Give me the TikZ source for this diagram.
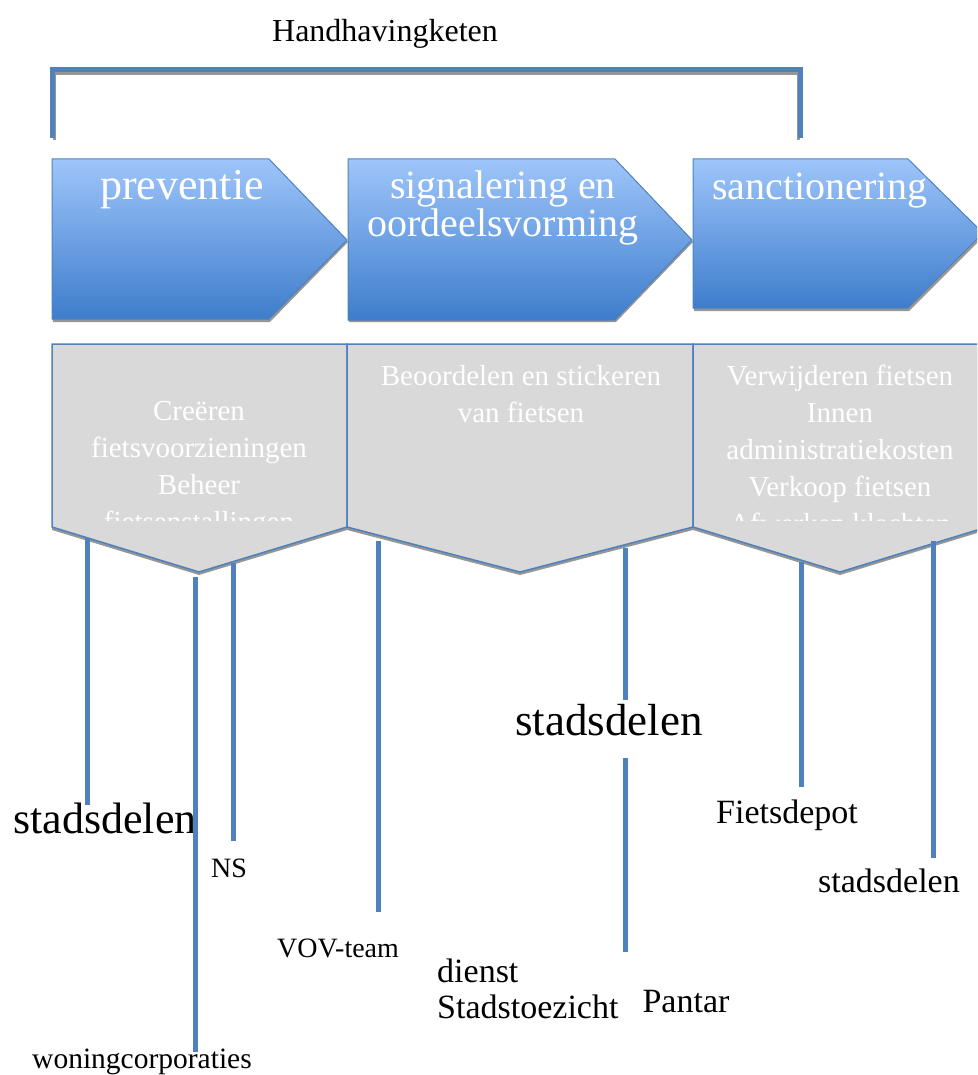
\documentclass[tikz,border=0pt]{standalone}
\usepackage{fontspec}
\setmainfont{Liberation Serif}

\definecolor{lijnblauw}{RGB}{79,129,189}
\definecolor{pijltop}{RGB}{158,197,250}
\definecolor{pijlmidden}{RGB}{118,164,229}
\definecolor{pijlbodem}{RGB}{62,125,204}
\definecolor{vakgrijs}{RGB}{217,217,217}
\definecolor{schaduwgrijs}{RGB}{150,150,150}

\tikzset{
	pijl/.style = {draw=lijnblauw, line width=1pt, top color=pijltop, middle color=pijlmidden, bottom color=pijlbodem},
	vak/.style = {draw=lijnblauw, line width=1.5pt, fill=vakgrijs},
	schaduw/.style = {fill=schaduwgrijs},
	link/.style = {draw=lijnblauw, line width=5pt},
	kop/.style = {text=white, inner sep=0pt},
	vaktekst/.style = {text=white, inner sep=0pt, align=center, font=\fontsize{29}{37}\selectfont},
	naam/.style = {inner sep=0pt, anchor=base}
}

\begin{document}
\begin{tikzpicture}[x=1pt, y=-1pt]
	\clip (0,0) rectangle (977,1075);

	\node [naam, font=\fontsize{32}{36}\selectfont] (titel) at (385,42) {Handhavingketen};
	\draw [schaduwgrijs, line width=3pt] (54,140) -- (54,74) -- (798,74) -- (798,140);
	\draw [lijnblauw, line width=5pt] (52,138) -- (52,70) -- (800,70) -- (800,138);

	% pijlen
	\fill [schaduw] (52,162) -- (269,162) -- (348,242) -- (270,322) -- (53,322) -- cycle;
	\draw [pijl] (52,159) -- (269,159) -- (347,240) -- (269,319) -- (52,319) -- cycle;
	\fill [schaduw] (348,162) -- (615,162) -- (693,242) -- (616,322) -- (349,322) -- cycle;
	\draw [pijl] (348,159) -- (615,159) -- (692,240) -- (615,320) -- (348,320) -- cycle;
	\fill [schaduw] (693,162) -- (908,162) -- (984,236) -- (909,311) -- (694,311) -- cycle;
	\draw [pijl] (693,159) -- (908,159) -- (983,233) -- (908,308) -- (693,308) -- cycle;
	\node [kop, anchor=base, font=\fontsize{44}{48}\selectfont] (prev) at (182,200) {preventie};
	\node [kop, anchor=north, align=center, font=\fontsize{40}{35}\selectfont] (sign) at (503,171) {signalering en\\oordeelsvorming};
	\node [kop, anchor=base, font=\fontsize{40}{44}\selectfont] (sanc) at (820,200) {sanctionering};

	% vakken
	\fill [schaduw] (52,347) -- (347,347) -- (347,530) -- (199,575) -- (52,530) -- cycle;
	\draw [vak] (52,344) -- (347,344) -- (347,527) -- (199,572) -- (52,527) -- cycle;
	\fill [schaduw] (347,347) -- (693,347) -- (693,530) -- (520,575) -- (347,530) -- cycle;
	\draw [vak] (347,344) -- (693,344) -- (693,527) -- (520,572) -- (347,527) -- cycle;
	\fill [schaduw] (693,347) -- (987,347) -- (987,530) -- (840,575) -- (693,530) -- cycle;
	\draw [vak] (693,344) -- (987,344) -- (987,527) -- (840,572) -- (693,527) -- cycle;
	\begin{scope}
		\clip (52,344) rectangle (977,520);
		\node [vaktekst, anchor=north] (taakprev) at (199,401) {Creëren\\fietsvoorzieningen\\Beheer\\fietsenstallingen};
		\node [vaktekst, anchor=north] (taaksign) at (521,365) {Beoordelen en stickeren\\van fietsen};
		\node [vaktekst, anchor=north] (taaksanc) at (840,365) {Verwijderen fietsen\\Innen\\administratiekosten\\Verkoop fietsen\\Afwerken klachten};
	\end{scope}

	% partijen
	\node [naam, font=\fontsize{44}{48}\selectfont] (stad1) at (105,833) {stadsdelen};
	\node [naam, font=\fontsize{29.5}{34}\selectfont] (woning) at (142,1068) {woningcorporaties};
	\node [naam, font=\fontsize{28}{32}\selectfont] (ns) at (229,877) {NS};
	\node [naam, font=\fontsize{28}{32}\selectfont] (vov) at (338,957) {VOV-team};
	\node [naam, font=\fontsize{45}{50}\selectfont] (stad2) at (609,735) {stadsdelen};
	\node [inner sep=0pt, anchor=base west, align=left, font=\fontsize{34}{36}\selectfont] (toezicht) at (437,1018) {dienst\\Stadstoezicht};
	\node [naam, font=\fontsize{34}{38}\selectfont] (pantar) at (686,1012) {Pantar};
	\node [naam, font=\fontsize{34}{38}\selectfont] (depot) at (787,823) {Fietsdepot};
	\node [naam, font=\fontsize{34}{38}\selectfont] (stad3) at (889,892) {stadsdelen};

	\coordinate (l1a) at (87,538);  \coordinate (l1b) at (87,805);
	\coordinate (l2a) at (195,577); \coordinate (l2b) at (195,1052);
	\coordinate (l3a) at (233,563); \coordinate (l3b) at (233,841);
	\coordinate (l4a) at (378,541); \coordinate (l4b) at (378,912);
	\coordinate (l5a) at (625,548); \coordinate (l5b) at (625,700);
	\coordinate (l6a) at (625,758); \coordinate (l6b) at (625,952);
	\coordinate (l7a) at (801,562); \coordinate (l7b) at (801,787);
	\coordinate (l8a) at (933,541); \coordinate (l8b) at (933,858);
	\draw [link] (l1a) -- (l1b);
	\draw [link] (l2a) -- (l2b);
	\draw [link] (l3a) -- (l3b);
	\draw [link] (l4a) -- (l4b);
	\draw [link] (l5a) -- (l5b);
	\draw [link] (l6a) -- (l6b);
	\draw [link] (l7a) -- (l7b);
	\draw [link] (l8a) -- (l8b);
\end{tikzpicture}
\end{document}
